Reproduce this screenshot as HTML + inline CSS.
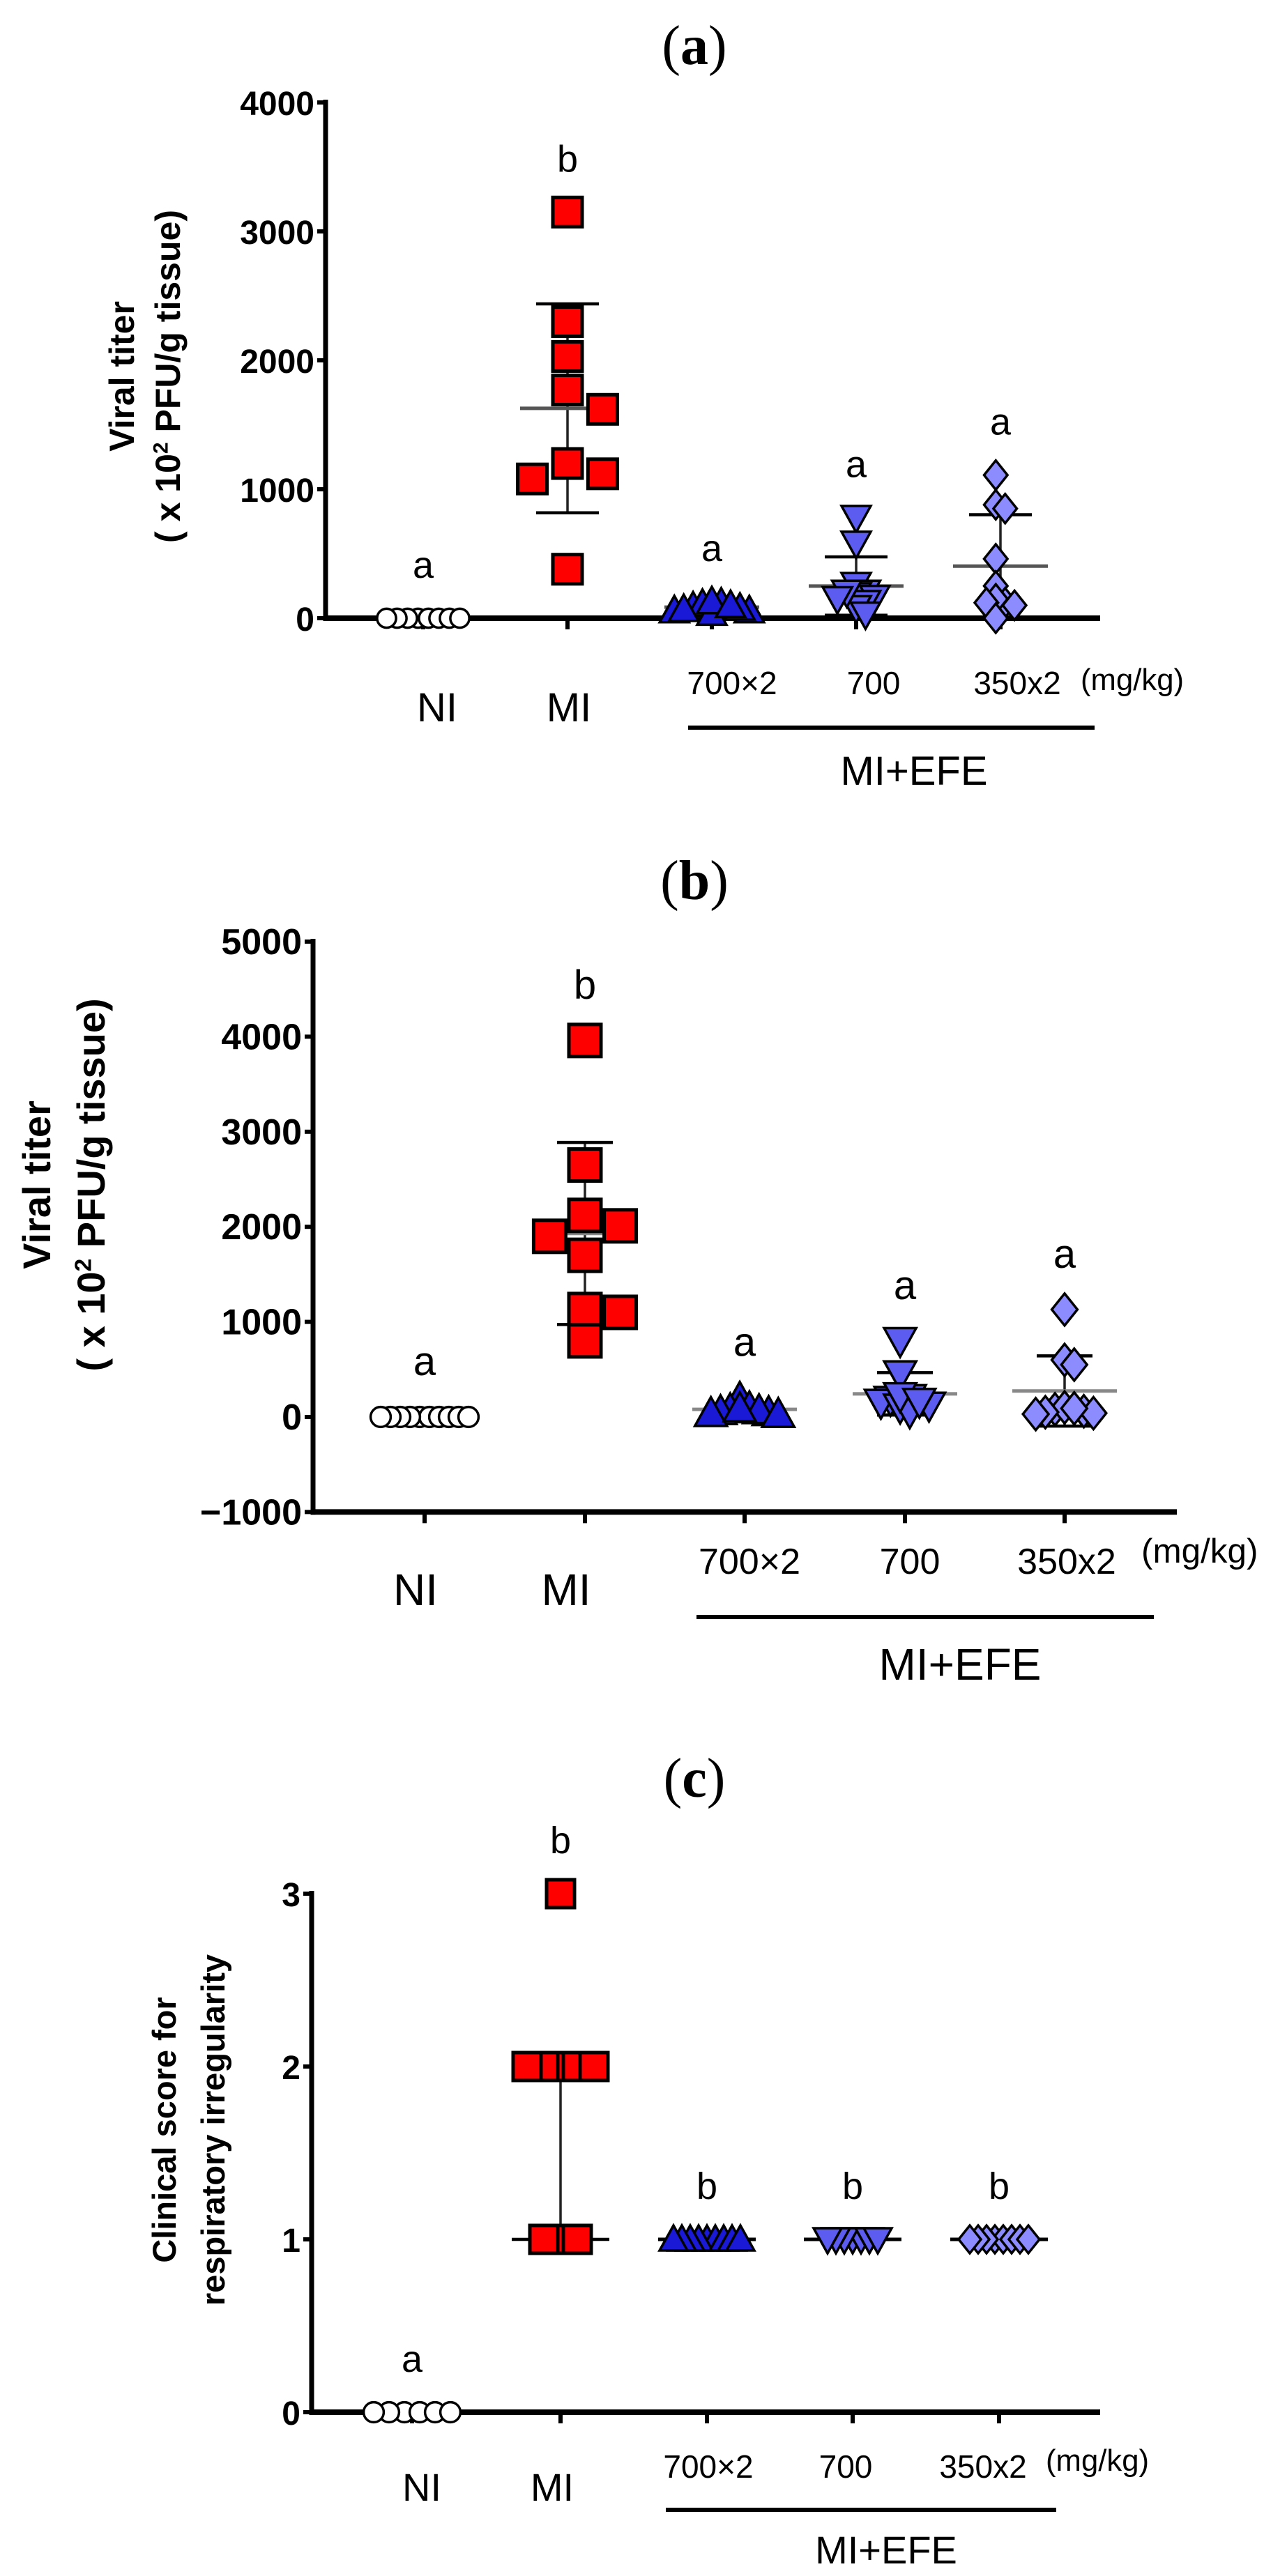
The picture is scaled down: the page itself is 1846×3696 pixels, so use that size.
<!DOCTYPE html>
<html><head><meta charset="utf-8"><title>Viral titer and clinical score</title>
<style>
html,body{margin:0;padding:0;background:#fff;}
svg{display:block;}
text{font-family:"Liberation Sans",Arial,sans-serif;}
</style></head>
<body>
<svg id="fig" width="1846" height="3696" viewBox="0 0 1846 3696" xmlns="http://www.w3.org/2000/svg">
<rect width="1846" height="3696" fill="#fff"/>
</svg>
<script>
// ---------- DATA ----------
const groups = ["NI","MI","700×2","700","350x2"];
const letterA = ["a","b","a","a","a"];
const letterB = ["a","b","a","a","a"];
const letterC = ["a","b","b","b","b"];
const ticksA = [0,1000,2000,3000,4000];
const ticksB = [-1000,0,1000,2000,3000,4000,5000];
const ticksC = [0,1,2,3];
const a_NI = [0,0,0,0,0,0,0,0];
const a_MI = [3150,2300,2030,1770,1620,1200,1080,1120,380];
const a_700x2 = [90,120,60,110,40,130,80,60,100,70];
const a_700 = [780,580,260,200,180,160,120,80,30,200,150];
const a_350x2 = [1110,880,850,460,250,120,150,120,100,0];
const b_NI = [0,0,0,0,0,0,0,0,0,0];
const b_MI = [3960,2650,2120,2010,1900,1700,1130,1100,800];
const b_700x2 = [200,100,80,60,50,70,40,90,30];
const b_700 = [800,450,200,180,150,100,50,120,220,160];
const b_350x2 = [1130,600,550,80,60,100,50,40,90,30];
const c_NI = [0,0,0,0,0,0];
const c_MI = [3,2,2,2,2,2,1,1,1];
const c_700x2 = [1,1,1,1,1,1,1,1,1];
const c_700 = [1,1,1,1,1,1,1];
const c_350x2 = [1,1,1,1,1,1,1,1];

const NS = "http://www.w3.org/2000/svg";
const svg = document.getElementById("fig");
function el(tag, attrs, parent){
  const e = document.createElementNS(NS, tag);
  for (const k in attrs) e.setAttribute(k, attrs[k]);
  (parent||svg).appendChild(e);
  return e;
}
const shapes = ["circle","square","tri","itri","diamond"];
const fills = ["#ffffff","#ff0000","#1a1ad6","#5c5cf0","#8c8cff"];

function marker(g, shape, cx, cy, s, fill){
  let m;
  const h = s/2;
  if (shape==="circle") m = el("circle",{cx:cx,cy:cy,r:h*0.8,fill:fill,stroke:"#000","stroke-width":3.5},g);
  else if (shape==="square") m = el("rect",{x:cx-h,y:cy-h,width:s,height:s,fill:fill,stroke:"#000","stroke-width":5},g);
  else if (shape==="tri") m = el("polygon",{points:`${cx},${cy-h} ${cx+h},${cy+h*0.8} ${cx-h},${cy+h*0.8}`,fill:fill,stroke:"#000","stroke-width":3.5},g);
  else if (shape==="itri") m = el("polygon",{points:`${cx-h},${cy-h*0.8} ${cx+h},${cy-h*0.8} ${cx},${cy+h}`,fill:fill,stroke:"#000","stroke-width":3.5},g);
  else m = el("polygon",{points:`${cx},${cy-h} ${cx+h*0.8},${cy} ${cx},${cy+h} ${cx-h*0.8},${cy}`,fill:fill,stroke:"#000","stroke-width":3.5},g);
  
  
}

function swarm(vals, yfn, step, minD){
  const idx = vals.map((v,i)=>i).sort((p,q)=>vals[q]-vals[p]);
  const placed = [];
  const off = new Array(vals.length).fill(0);
  idx.forEach(i=>{
    const y = yfn(vals[i]);
    for (let k=0;k<80;k++){
      const cand = k===0?0:(k%2? Math.ceil(k/2): -Math.ceil(k/2))*step;
      if (placed.every(p=>Math.hypot(p.x-cand,p.y-y)>=minD)){ off[i]=cand; placed.push({x:cand,y:y}); break; }
    }
  });
  return off;
}

function stats(v){
  const n=v.length, m=v.reduce((a,b)=>a+b,0)/n;
  const sd = n>1?Math.sqrt(v.reduce((a,b)=>a+(b-m)*(b-m),0)/(n-1)):0;
  return {m:m, sd:sd};
}

function panel(cfg){
  const g = el("g",{});
  
  
  const y = v => cfg.y0 - (v)*cfg.ppu;
  const yBottom = y(cfg.ticks[0]);
  const t = el("text",{x:996,y:cfg.titleY,"text-anchor":"middle","font-size":80,style:'font-family:"Liberation Serif",serif'},g);
  t.textContent = "(";
  const tb = el("tspan",{"font-weight":"bold"},t); tb.textContent = cfg.letter;
  const tc = el("tspan",{},t); tc.textContent = ")";
  
  
  const ya = el("line",{x1:cfg.ax,y1:y(cfg.ticks[cfg.ticks.length-1])-4,x2:cfg.ax,y2:yBottom+4,stroke:"#000","stroke-width":7},g);
  
  
  cfg.ticks.forEach(tv=>{
    el("line",{x1:cfg.ax-12,y1:y(tv),x2:cfg.ax,y2:y(tv),stroke:"#000","stroke-width":6},g);
    const tl = el("text",{x:cfg.ax-16,y:y(tv)+18,"text-anchor":"end","font-size":cfg.tickFont,"font-weight":"bold"},g);
    tl.textContent = tv<0? "\u2212"+Math.abs(tv) : String(tv);
    
    
  });
  const xa = el("line",{x1:cfg.ax-3,y1:yBottom,x2:cfg.xEnd,y2:yBottom,stroke:"#000","stroke-width":8},g);
  
  
  cfg.gx.forEach(x=>el("line",{x1:x,y1:yBottom,x2:x,y2:yBottom+16,stroke:"#000","stroke-width":6},g));
  const yt = el("text",{transform:`translate(${cfg.yt1x},${cfg.ytY}) rotate(-90)`,"text-anchor":"middle","font-size":cfg.ytFont,"font-weight":"bold"},g);
  yt.textContent = cfg.yt1;
  
  
  const yt2 = el("text",{transform:`translate(${cfg.yt2x},${cfg.ytY}) rotate(-90)`,"text-anchor":"middle","font-size":cfg.ytFont,"font-weight":"bold"},g);
  if (cfg.sup){
    yt2.textContent = "( x 10";
    const s = el("tspan",{dy:-cfg.ytFont*0.35,"font-size":cfg.ytFont*0.6},yt2); s.textContent="2";
    const r = el("tspan",{dy:cfg.ytFont*0.35},yt2); r.textContent=" PFU/g tissue)";
  } else yt2.textContent = cfg.yt2;
  
  
  cfg.data.forEach((vals,gi)=>{
    const cx = cfg.gx[gi];
    const gg = el("g",{},g);
    
    
    if (gi>0){
      let mid, lo, hi;
      if (cfg.median){
        const s=[...vals].sort((p,q)=>p-q);
        mid = s[Math.floor(s.length/2)];
        lo = s[Math.floor((s.length-1)/4)]; hi = s[Math.ceil(3*(s.length-1)/4)];
      } else { const st=stats(vals); mid=st.m; lo=st.m-st.sd; hi=st.m+st.sd; }
      const eb = el("g",{},gg);
      
      
      el("line",{x1:cx,y1:y(hi),x2:cx,y2:y(lo),stroke:"#222","stroke-width":3.5},eb);
      el("line",{x1:cx-cfg.capW/2,y1:y(hi),x2:cx+cfg.capW/2,y2:y(hi),stroke:"#000","stroke-width":4.5},eb);
      el("line",{x1:cx-cfg.capW/2,y1:y(lo),x2:cx+cfg.capW/2,y2:y(lo),stroke:"#000","stroke-width":4.5},eb);
      el("line",{x1:cx-cfg.meanW/2,y1:y(mid),x2:cx+cfg.meanW/2,y2:y(mid),stroke:cfg.meanCol,"stroke-width":5},eb);
    }
    const sz = gi===0? cfg.circ : cfg.size;
    let offs;
    if (gi===0) offs = swarm(vals,y,cfg.circStep,cfg.circStep);
    else if (gi===1) offs = swarm(vals,y,sz*cfg.miStep,sz*cfg.miMin);
    else offs = swarm(vals,y,sz*cfg.tieStep,sz*cfg.tieStep);
    const mn = Math.min(...offs), mx = Math.max(...offs);
    const shift = -(mn+mx)/2;
    vals.forEach((v,i)=>marker(gg,shapes[gi],cx+offs[i]+shift,y(v),sz,fills[gi]));
    const top = Math.max(...vals);
    const lt = el("text",{x:cx,y:y(top)-cfg.letOff,"text-anchor":"middle","font-size":cfg.letFont},gg);
    lt.textContent = cfg.letters[gi];
    
    
  });
  groups.forEach((gname,gi)=>{
    const big = gi<2;
    const xl = el("text",{x:cfg.lx[gi],y: big?cfg.nlY:cfg.dlY,"text-anchor":"middle","font-size": big?cfg.nlFont:cfg.dlFont},g);
    xl.textContent = gname;
    
    
  });
  const mg = el("text",{x:cfg.mgX,y:cfg.mgY,"font-size":cfg.dlFont*0.95},g);
  mg.textContent="(mg/kg)";
  
  
  const br = el("line",{x1:cfg.brX1,y1:cfg.brY,x2:cfg.brX2,y2:cfg.brY,stroke:"#000","stroke-width":6},g);
  
  
  const ef = el("text",{x:cfg.efX,y:cfg.efY,"text-anchor":"middle","font-size":cfg.nlFont},g);
  ef.textContent="MI+EFE";
  
  
}

panel({name:"panel-a",letter:"a",titleY:92,ax:467,y0:887,ppu:0.185,ticks:ticksA,xEnd:1578,
  gx:[607,814,1021,1228,1435],lx:[627,816,1050,1253,1459],tickFont:48,
  yt1:"Viral titer",yt1x:192,yt2x:258,ytY:540,ytFont:50,sup:true,
  data:[a_NI,a_MI,a_700x2,a_700,a_350x2],letters:letterA,size:42,circ:34,circStep:15,miStep:1.2,miMin:0.95,tieStep:0.32,
  capW:90,meanW:136,meanCol:"#555",median:false,letOff:58,letFont:54,
  nlY:1035,dlY:996,nlFont:58,dlFont:46,mgX:1550,mgY:990,brX1:987,brX2:1570,brY:1044,efX:1311,efY:1126});
panel({name:"panel-b",letter:"b",titleY:1290,ax:449,y0:2033,ppu:0.1364,ticks:ticksB,xEnd:1688,
  gx:[609,839,1068,1298,1527],lx:[596,812,1075,1305,1530],tickFont:52,
  yt1:"Viral titer",yt1x:72,yt2x:150,ytY:1700,ytFont:56,sup:true,
  data:[b_NI,b_MI,b_700x2,b_700,b_350x2],letters:letterB,size:46,circ:36,circStep:14,miStep:1.1,miMin:0.95,tieStep:0.3,
  capW:80,meanW:150,meanCol:"#888",median:false,letOff:60,letFont:58,
  nlY:2303,dlY:2258,nlFont:64,dlFont:52,mgX:1637,mgY:2242,brX1:999,brX2:1655,brY:2320,efX:1377,efY:2410});
panel({name:"panel-c",letter:"c",titleY:2578,ax:447,y0:3461,ppu:248,ticks:ticksC,xEnd:1578,
  gx:[591,804,1014,1223,1433],lx:[605,792,1016,1213,1410],tickFont:48,
  yt1:"Clinical score for",yt1x:252,yt2x:322,ytY:3056,ytFont:47,sup:false,yt2:"respiratory irregularity",
  data:[c_NI,c_MI,c_700x2,c_700,c_350x2],letters:letterC,size:40,circ:36,circStep:22,miStep:0.6,miMin:0.6,tieStep:0.3,
  capW:140,meanW:140,meanCol:"#000",median:true,letOff:58,letFont:54,
  nlY:3588,dlY:3555,nlFont:56,dlFont:46,mgX:1500,mgY:3545,brX1:955,brX2:1515,brY:3601,efX:1271,efY:3678});
</script>
</body></html>
